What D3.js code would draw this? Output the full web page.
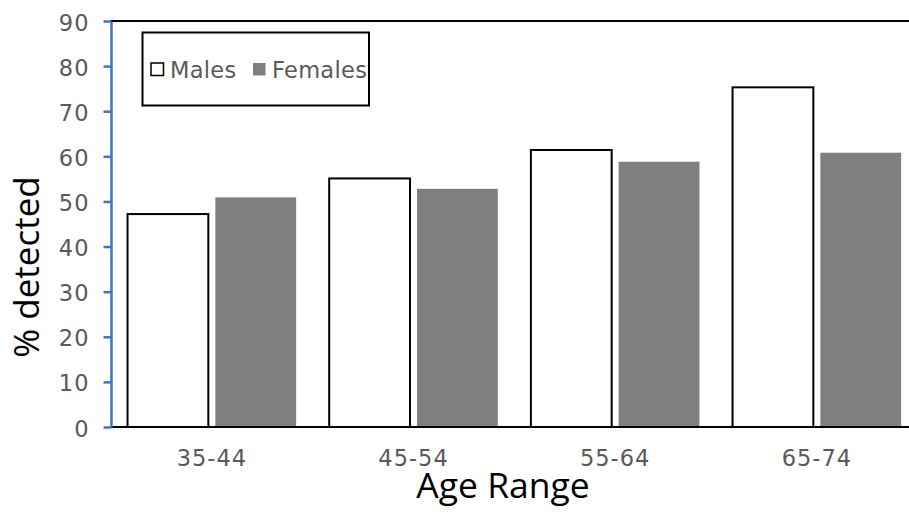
<!DOCTYPE html>
<html><head><meta charset="utf-8">
<script src="https://cdn.jsdelivr.net/npm/d3@7/dist/d3.min.js"></script>
<style>html,body{margin:0;padding:0;background:#fff;overflow:hidden}</style>
</head><body>
<script>
const categories = ["35-44", "45-54", "55-64", "65-74"];
const seriesNames = ["Males", "Females"];
const males = [47.2, 55.1, 61.4, 75.3];
const females = [50.9, 52.8, 58.8, 60.8];
const yTicks = [0, 10, 20, 30, 40, 50, 60, 70, 80, 90];

const W = 909, H = 517;
const svg = d3.select("body").append("svg").attr("width", W).attr("height", H);

const mLeft = 111, mTop = 21, mBottom = 427;
const step = 201.67;
const mRight = mLeft + step * categories.length;

const y = d3.scaleLinear().domain([0, 90]).range([mBottom, mTop]);
const x0 = d3.scaleBand().domain(categories).range([mLeft, mRight]).paddingInner(0.164).paddingOuter(0.082);
const x1 = d3.scaleBand().domain(seriesNames).range([0, x0.bandwidth()]).paddingInner(0.08);

const data = categories.map((c, i) => ({cat: c, values: [{s: "Males", v: males[i]}, {s: "Females", v: females[i]}]}));

// top border
svg.append("line").attr("x1", mLeft).attr("x2", W).attr("y1", mTop).attr("y2", mTop)
  .attr("stroke", "#000").attr("stroke-width", 2);

// bars
const g = svg.append("g");
const groups = g.selectAll("g.grp").data(data).enter().append("g")
  .attr("transform", d => `translate(${x0(d.cat)},0)`);
groups.selectAll("rect").data(d => d.values).enter().append("rect")
  .attr("x", d => x1(d.s))
  .attr("y", d => y(d.v))
  .attr("width", x1.bandwidth())
  .attr("height", d => mBottom - y(d.v))
  .attr("fill", d => d.s === "Males" ? "#fff" : "#7f7f7f")
  .attr("stroke", d => d.s === "Males" ? "#000" : "none")
  .attr("stroke-width", 2);

// x axis
const xAxis = svg.append("g").attr("transform", `translate(0,${mBottom})`)
  .call(d3.axisBottom(x0).tickSize(0).tickPadding(23));
xAxis.select(".domain").attr("stroke", "#000").attr("stroke-width", 2)
  .attr("d", `M${mLeft},0H${W}`);
xAxis.selectAll("text").attr("font-family", "DejaVu Sans").attr("font-size", 22.5)
  .attr("letter-spacing", 1).attr("fill", "#595959");

// y axis
const yAxis = svg.append("g").attr("transform", `translate(${mLeft},0)`)
  .call(d3.axisLeft(y).tickValues(yTicks).tickSize(7.5).tickPadding(14).tickSizeOuter(0));
yAxis.select(".domain").attr("stroke", "#4472c4").attr("stroke-width", 2.5);
yAxis.selectAll(".tick line").attr("stroke", "#4472c4").attr("stroke-width", 2.5);
yAxis.selectAll("text").attr("font-family", "DejaVu Sans").attr("font-size", 22.5)
  .attr("letter-spacing", 1).attr("fill", "#595959").attr("dy", "0.4em");

// axis titles
svg.append("text").attr("x", 503).attr("y", 498).attr("text-anchor", "middle")
  .attr("font-family", "Open Sans").attr("font-size", 35.5).attr("fill", "#000").text("Age Range");
svg.append("text").attr("transform", "translate(39,267) rotate(-90)").attr("text-anchor", "middle")
  .attr("font-family", "Open Sans").attr("font-size", 35).attr("fill", "#000").text("% detected");

// legend
const lg = svg.append("g");
lg.append("rect").attr("x", 142.5).attr("y", 32.5).attr("width", 226.5).attr("height", 73)
  .attr("fill", "#fff").attr("stroke", "#000").attr("stroke-width", 2);
const legendItems = [
  {name: seriesNames[0], sx: 151, tx: 170},
  {name: seriesNames[1], sx: 253, tx: 272}
];
legendItems.forEach(it => {
  lg.append("rect").attr("x", it.sx).attr("y", 63).attr("width", 12.5).attr("height", 12.5)
    .attr("fill", it.name === "Males" ? "#fff" : "#7f7f7f")
    .attr("stroke", it.name === "Males" ? "#000" : "none").attr("stroke-width", 1.5);
  lg.append("text").attr("x", it.tx).attr("y", 77.5)
    .attr("font-family", "DejaVu Sans").attr("font-size", 22.5).attr("letter-spacing", 0.3)
    .attr("fill", "#595959").text(it.name);
});
</script>
</body></html>
